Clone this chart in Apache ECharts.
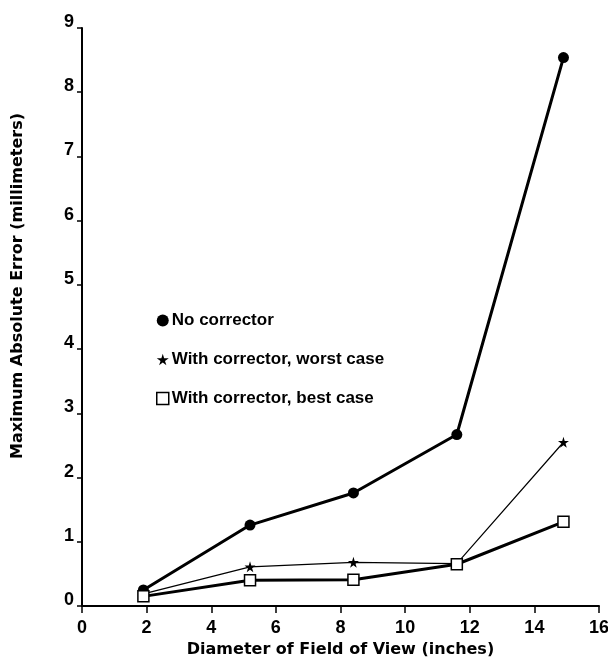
<!DOCTYPE html>
<html>
<head>
<meta charset="utf-8">
<script src="https://cdn.jsdelivr.net/npm/echarts@6/dist/echarts.min.js"></script>
<style>html,body{margin:0;padding:0;background:#fff}#c{width:608px;height:660px}</style>
</head>
<body>
<div id="c"></div>
<script>
const diameters = [1.9, 5.2, 8.4, 11.6, 14.9];
const noCorrector = [0.25, 1.26, 1.76, 2.67, 8.54];
const worstCase = [0.19, 0.61, 0.68, 0.66, 2.55];
const bestCase = [0.15, 0.40, 0.41, 0.65, 1.31];
const seriesNames = ['No corrector', 'With corrector, worst case', 'With corrector, best case'];
const xTicks = [0, 2, 4, 6, 8, 10, 12, 14, 16];
const yTicks = [0, 1, 2, 3, 4, 5, 6, 7, 8, 9];

const pairs = (xs, ys) => xs.map((x, i) => [x, ys[i]]);
const starPath = 'path://M50,0 L61,35 L98,35 L68,57 L79,91 L50,70 L21,91 L32,57 L2,35 L39,35 Z';
const font = 'Liberation Sans, Arial, sans-serif';
const titleFont = 'DejaVu Sans, sans-serif';

const chart = echarts.init(document.getElementById('c'), null, {renderer: 'canvas'});
chart.setOption({
  animation: false,
  backgroundColor: '#fff',
  grid: {left: 82, right: 9, top: 28, bottom: 54, containLabel: false, outerBoundsMode: 'none'},
  legend: {
    orient: 'vertical',
    left: 151,
    top: 307,
    itemGap: 22,
    itemWidth: 12,
    itemHeight: 12,
    textStyle: {color: '#000', fontFamily: font, fontWeight: 'bold', fontSize: 17, padding: [0, 0, 0, -2]},
    data: [
      {name: seriesNames[0], icon: 'circle', itemStyle: {color: '#000'}},
      {name: seriesNames[1], icon: starPath, itemStyle: {color: '#000'}},
      {name: seriesNames[2], icon: 'rect', itemStyle: {color: '#fff', borderColor: '#000', borderWidth: 1.5}}
    ]
  },
  xAxis: {
    type: 'value', min: xTicks[0], max: xTicks[xTicks.length - 1], interval: 2,
    name: 'Diameter of Field of View (inches)', nameLocation: 'middle', nameGap: 34,
    nameTextStyle: {color: '#000', fontFamily: titleFont, fontWeight: 'bold', fontSize: 16},
    axisLine: {lineStyle: {color: '#000', width: 2}},
    axisTick: {show: true, length: 7, lineStyle: {color: '#000', width: 1.5}},
    axisLabel: {color: '#000', fontFamily: font, fontWeight: 'bold', fontSize: 18, margin: 13},
    splitLine: {show: false}
  },
  yAxis: {
    type: 'value', min: yTicks[0], max: yTicks[yTicks.length - 1], interval: 1,
    name: 'Maximum Absolute Error (millimeters)', nameLocation: 'middle', nameGap: 56,
    nameTextStyle: {color: '#000', fontFamily: titleFont, fontWeight: 'bold', fontSize: 16, padding: [0, 0, 0, 62]},
    axisLine: {lineStyle: {color: '#000', width: 2}},
    axisTick: {show: true, length: 5, lineStyle: {color: '#000', width: 1.5}},
    axisLabel: {color: '#000', fontFamily: font, fontWeight: 'bold', fontSize: 18, margin: 8, verticalAlign: 'bottom', lineHeight: 12},
    splitLine: {show: false}
  },
  series: [
    {
      name: seriesNames[0], type: 'line', data: pairs(diameters, noCorrector),
      symbol: 'circle', symbolSize: 11,
      lineStyle: {color: '#000', width: 3}, itemStyle: {color: '#000'}, z: 3
    },
    {
      name: seriesNames[1], type: 'line', data: pairs(diameters, worstCase),
      symbol: starPath, symbolSize: 11,
      lineStyle: {color: '#000', width: 1.2}, itemStyle: {color: '#000'}, z: 4
    },
    {
      name: seriesNames[2], type: 'line', data: pairs(diameters, bestCase),
      symbol: 'rect', symbolSize: 11,
      lineStyle: {color: '#000', width: 3}, itemStyle: {color: '#fff', borderColor: '#000', borderWidth: 1.5}, z: 5
    }
  ]
});
</script>
</body>
</html>
